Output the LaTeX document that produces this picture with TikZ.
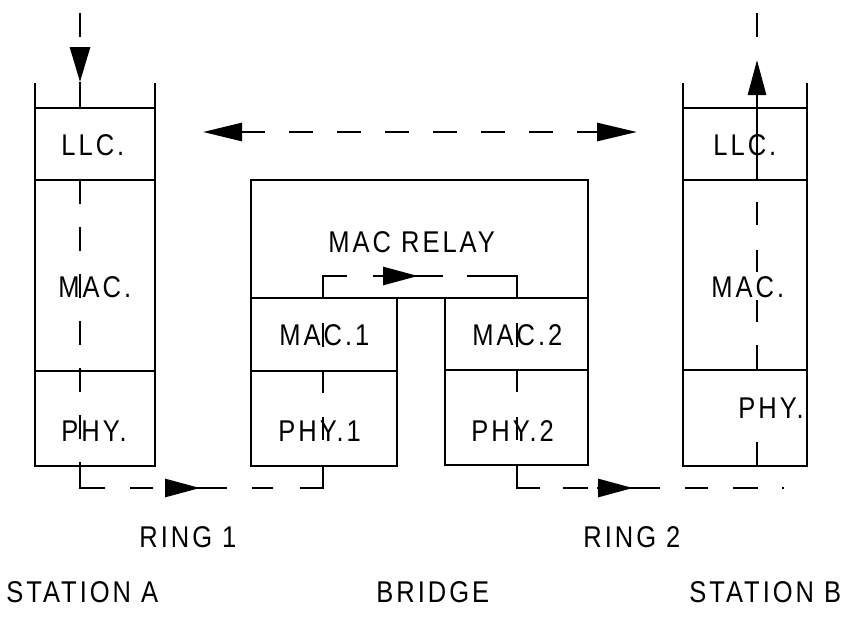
\documentclass[tikz,border=0pt]{standalone}
\usepackage{fontspec}
\setmainfont{Liberation Sans}[FakeStretch=0.85,LetterSpace=10]
\usetikzlibrary{arrows.meta}
\begin{document}
\begin{tikzpicture}[x=0.5pt,y=-0.5pt,line width=1.4pt,
  box/.style={draw,rectangle,inner sep=0pt,outer sep=0pt},
  lbl/.style={inner sep=0pt,anchor=west,font=\fontsize{15}{18}\selectfont},
  tipR/.style={-{Triangle[length=17.5pt,width=9pt]}},
  tipA/.style={-{Triangle[length=17.5pt,width=10pt]}},
  dashv/.style={dash pattern=on 12pt off 11.5pt}]
\useasboundingbox (0,0) rectangle (846,616);

% ---------------- Station A ----------------
\node[box,minimum width=60pt,minimum height=36pt] (llcA) at (95,144) {};
\node[box,minimum width=60pt,minimum height=95.5pt] (macA) at (95,275.5) {};
\node[box,minimum width=60pt,minimum height=47.5pt] (phyA) at (95,418.5) {};
\draw (llcA.north west) -- ++(0,-25);
\draw (llcA.north east) -- ++(0,-25);

% ---------------- Bridge ----------------
\node[box,minimum width=168.5pt,minimum height=59pt] (relay) at (419.5,239) {};
\node[box,minimum width=73pt,minimum height=36.5pt] (mac1) at (324,334.5) {};
\node[box,minimum width=73pt,minimum height=47.5pt] (phy1) at (324,418.5) {};
\node[box,minimum width=71.5pt,minimum height=36pt] (mac2) at (516.5,334) {};
\node[box,minimum width=71.5pt,minimum height=47.5pt] (phy2) at (516.5,417.5) {};

% ---------------- Station B ----------------
\node[box,minimum width=62pt,minimum height=36pt] (llcB) at (745,144) {};
\node[box,minimum width=62pt,minimum height=95pt] (macB) at (745,275) {};
\node[box,minimum width=62pt,minimum height=48pt] (phyB) at (745,418) {};
\draw (llcB.north west) -- ++(0,-25);
\draw (llcB.north east) -- ++(0,-25);

% ---------------- labels ----------------
\node[lbl] (tLLCA) at (60,145) {LLC.};
\node[lbl] (tMACA) at (57,287) {MAC.};
\node[lbl] (tPHYA) at (60,431) {PHY.};
\node[lbl] (tLLCB) at (712,145) {LLC.};
\node[lbl] (tMACB) at (710,287) {MAC.};
\node[lbl] (tPHYB) at (737,408) {PHY.};
\node[lbl] (tRelay) at (327,242) {MAC RELAY};
\node[lbl] (tMAC1) at (278,335) {MAC.1};
\node[lbl] (tMAC2) at (471,335) {MAC.2};
\node[lbl] (tPHY1) at (277,431) {PHY.1};
\node[lbl] (tPHY2) at (470,431) {PHY.2};
\node[lbl] (tR1) at (138,537) {RING 1};
\node[lbl] (tR2) at (582,537) {RING 2};
\node[lbl] (tSA) at (5,592) {STATION A};
\node[lbl] (tBr) at (375,592) {BRIDGE};
\node[lbl] (tSB) at (688,592) {STATION B};

% ---------------- top double arrow ----------------
\draw[dash pattern=on 12pt off 12pt,
  {Triangle[length=19.5pt,width=9pt]}-{Triangle[length=20pt,width=9pt]}]
  (203,132) -- (637,132);

% ---------------- Station A path / ring 1 ----------------
\draw (80,13) -- (80,37);
\draw[tipA] (80,47) -- (80,82);
\draw (80,82) -- (80,108);
\draw[dashv] (80,180) -- (80,466);
\draw (80,466) -- (80,488) -- (105,488);
\draw (130,488) -- (153,488);
\draw (165,488) -- (227,488);
\draw[tipR] (165,488) -- (200,488);
\draw (252,488) -- (273,488);
\draw (300,488) -- (323,488) -- (323,466);

% ---------------- bridge path ----------------
\draw (323,440) -- (323,417);
\draw (323,393) -- (323,371);
\draw (323,347) -- (323,323);
\draw (323,298) -- (323,276) -- (347,276);
\draw (373,276) -- (443,276);
\draw[tipR] (382,276) -- (418,276);
\draw (467,276) -- (517,276) -- (517,298);
\draw (517,323) -- (517,347);
\draw (517,370) -- (517,392);
\draw (517,417) -- (517,440);

% ---------------- ring 2 ----------------
\draw (517,465) -- (517,488) -- (540,488);
\draw (563,488) -- (588,488);
\draw (597,488) -- (660,488);
\draw[tipR] (597,488) -- (633,488);
\draw (685,488) -- (708,488);
\draw (733,488) -- (758,488);
\draw (782,488) -- (784,488);

% ---------------- Station B path ----------------
\draw (757,13) -- (757,37);
\draw[tipR] (757,97) -- (757,60);
\draw (757,97) -- (757,180);
\draw (757,202) -- (757,225);
\draw (757,250) -- (757,272);
\draw (757,300) -- (757,322);
\draw (757,345) -- (757,370);
\draw (757,442) -- (757,466);
\end{tikzpicture}
\end{document}
